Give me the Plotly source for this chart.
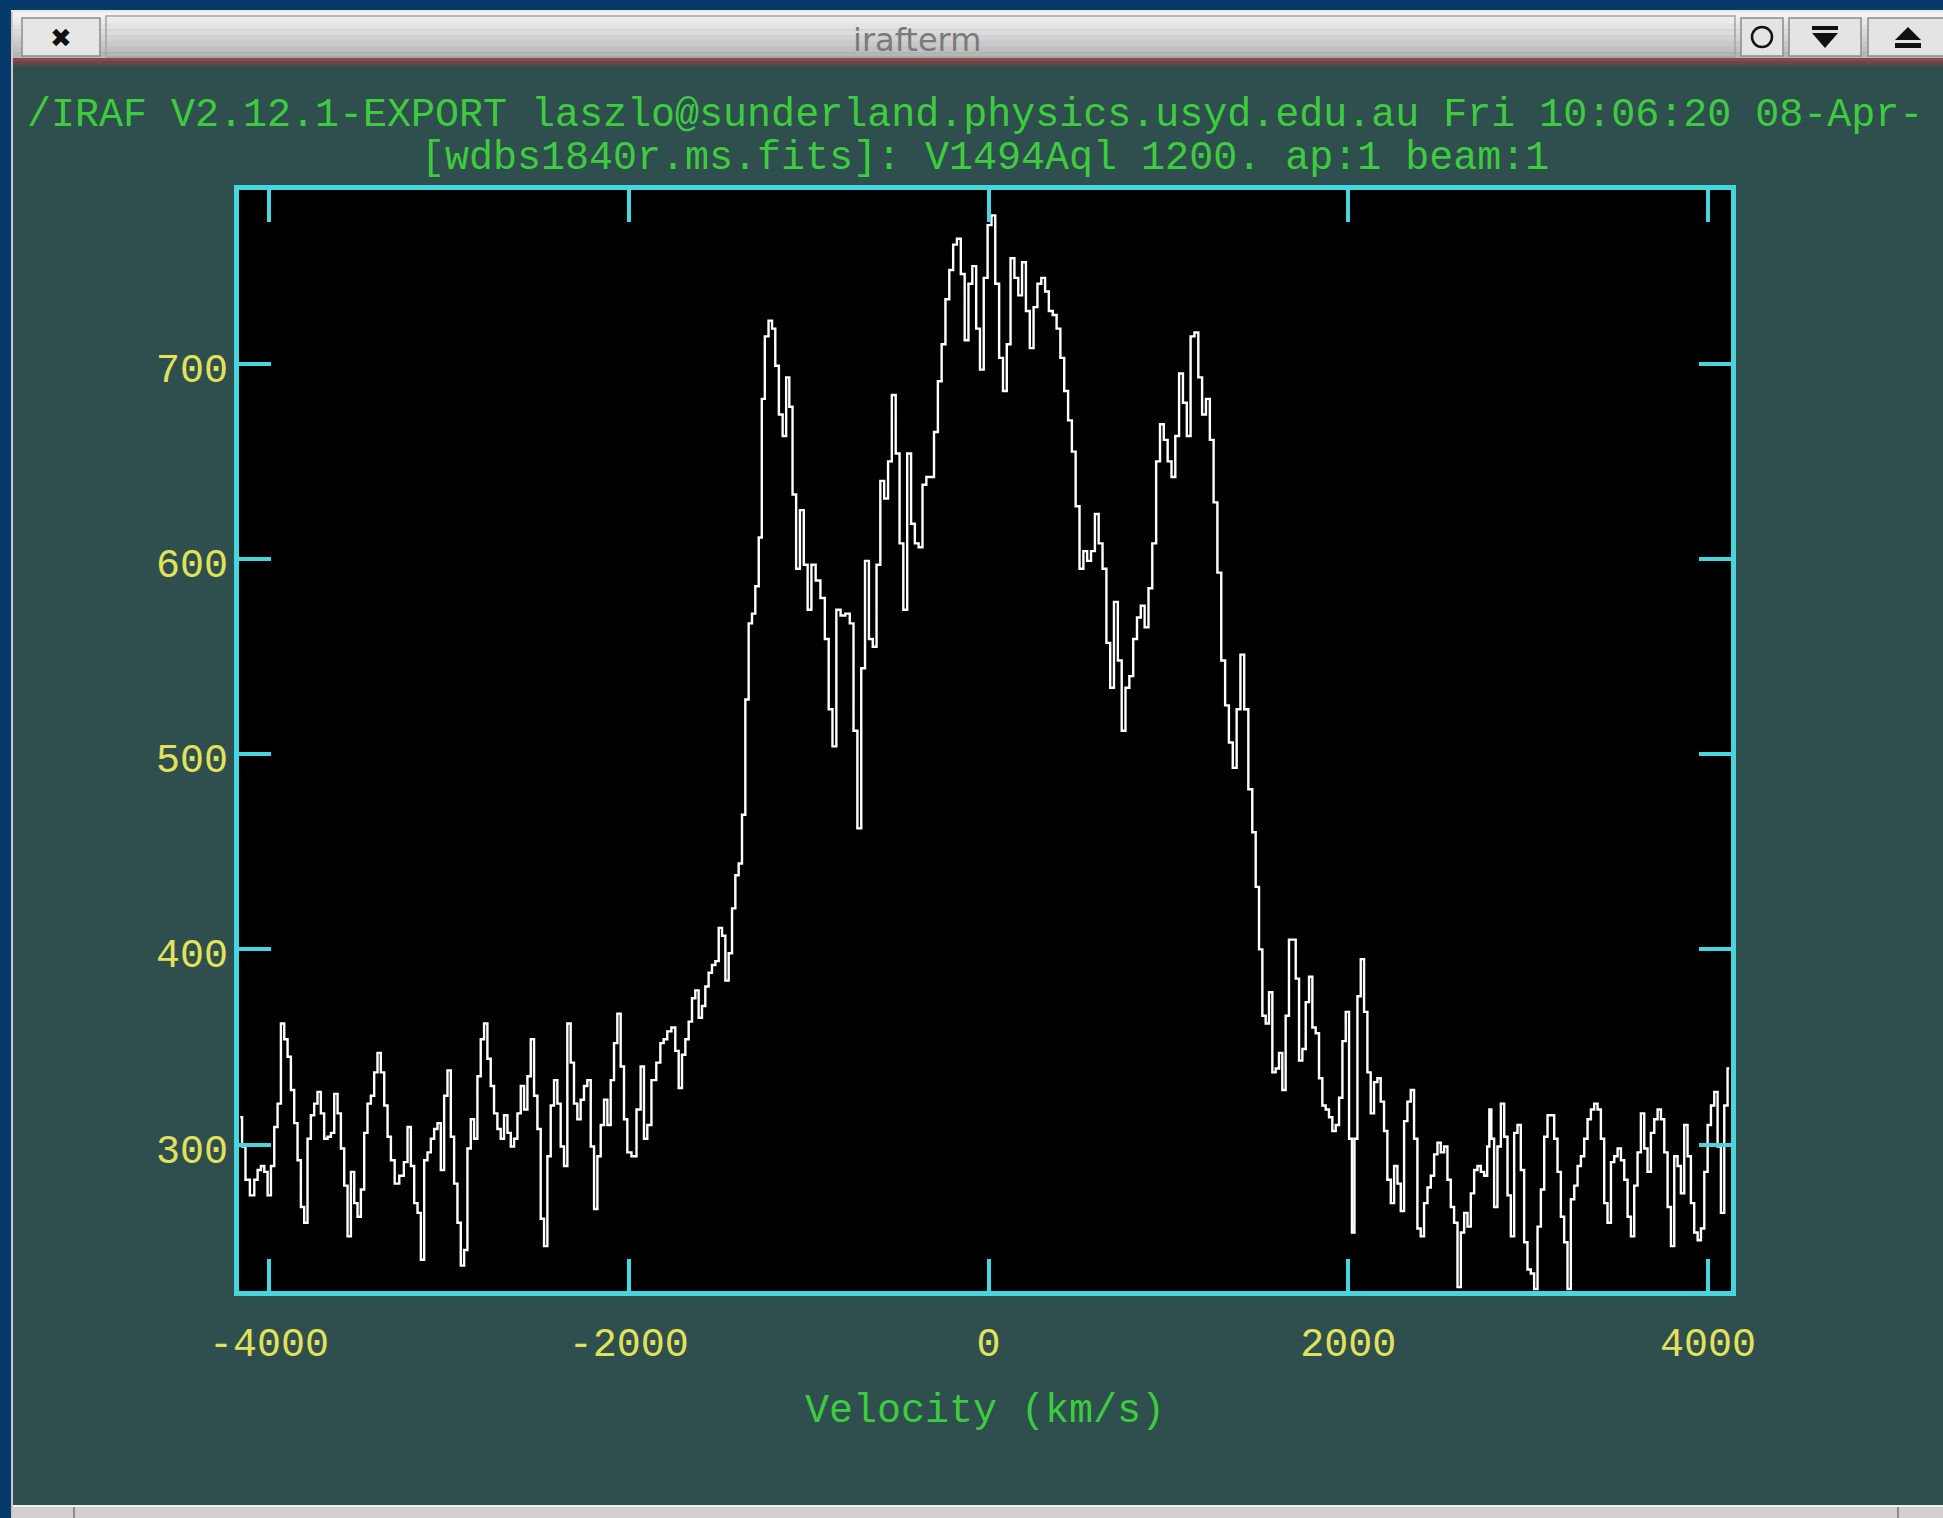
import plotly.graph_objects as go

# ---------------------------------------------------------------- data
# blue continuum  (velocity km/s, flux)
blue_cont_vel = [-4160, -4140, -4122, -4091, -4073, -4054, -4036, -4017, -3999, -3980,
                 -3962, -3943, -3925, -3906, -3888, -3869, -3851, -3832, -3814, -3795,
                 -3777, -3758, -3740, -3721, -3703, -3684, -3665, -3647, -3628, -3610,
                 -3591, -3573, -3554, -3536, -3517, -3499, -3480, -3462, -3443, -3425,
                 -3406, -3388, -3369, -3350, -3332, -3313, -3290, -3262, -3239, -3221,
                 -3202, -3184, -3165, -3147, -3128, -3110, -3091, -3073, -3054, -3036,
                 -3017, -2999, -2980, -2962, -2943, -2925, -2906, -2888, -2869, -2851,
                 -2832, -2814, -2795, -2777, -2758, -2740, -2721, -2703, -2684, -2665,
                 -2647, -2628, -2610, -2591, -2573, -2554, -2536, -2517, -2499, -2480,
                 -2462, -2443, -2425, -2406, -2388, -2369, -2351, -2332, -2314, -2295,
                 -2277, -2258, -2240, -2221, -2202, -2184, -2165, -2147, -2128, -2110,
                 -2091, -2073, -2054, -2036, -2017, -1999, -1971, -1943, -1925, -1906,
                 -1888, -1860]
blue_cont_flux = [314, 299, 282, 274, 282, 287, 289, 286, 274, 289,
                  309, 321, 362, 354, 345, 328, 311, 292, 268, 260,
                  303, 315, 321, 327, 316, 303, 304, 306, 326, 316,
                  298, 279, 253, 286, 270, 263, 277, 306, 321, 325,
                  337, 347, 337, 320, 304, 292, 280, 284, 291, 309,
                  289, 270, 265, 241, 292, 296, 303, 308, 311, 287,
                  325, 338, 304, 280, 260, 238, 246, 298, 313, 303,
                  335, 354, 362, 344, 330, 316, 308, 303, 315, 306,
                  299, 303, 316, 330, 318, 335, 354, 325, 308, 262,
                  248, 294, 320, 333, 321, 299, 289, 362, 342, 321,
                  313, 323, 330, 333, 299, 267, 294, 310, 323, 310,
                  333, 352, 367, 340, 313, 296, 294, 318, 340, 303,
                  310, 333]

# blue wing
blue_wing_vel = [-1834, -1815, -1797, -1775, -1751, -1732, -1713, -1695, -1676, -1658,
                 -1639, -1621, -1602, -1584, -1565, -1547, -1528, -1509, -1491, -1472,
                 -1454, -1435, -1417, -1398, -1380, -1361, -1343, -1324, -1306, -1287,
                 -1268]
blue_wing_flux = [342, 352, 354, 358, 360, 348, 329, 346, 354, 363,
                  375, 379, 365, 371, 381, 388, 392, 394, 411, 407,
                  384, 398, 421, 438, 444, 469, 528, 567, 572, 586,
                  611]

# line core (triple-peaked profile)
core_vel = [-1253, -1234, -1212, -1195, -1176, -1155, -1134, -1116, -1099, -1080,
            -1059, -1038, -1016, -995, -974, -948, -921, -899, -878, -857,
            -835, -810, -782, -761, -740, -718, -697, -676, -654, -633,
            -612, -591, -569, -548, -527, -505, -484, -463, -441, -420,
            -399, -378, -356, -335, -314, -292, -271, -250, -229, -207,
            -186, -165, -143, -122, -101, -79, -58, -37, -16, 6,
            27, 48, 70, 91, 112, 133, 155, 176, 197, 219,
            240, 261, 283, 304, 325, 346, 368, 389, 410, 432,
            453, 474, 495, 517, 538, 559, 581, 602, 623, 645,
            666, 687, 708, 730, 751, 772, 794, 815, 836, 857,
            879, 900, 921, 943, 964, 985, 1007, 1028, 1049, 1070,
            1092, 1113, 1134, 1156, 1177, 1198, 1220, 1241, 1262, 1283,
            1305, 1326, 1347, 1369, 1390, 1411, 1432]
core_flux = [682, 714, 722, 718, 699, 674, 663, 693, 678, 633,
             595, 625, 597, 574, 597, 589, 580, 559, 523, 504,
             574, 571, 572, 567, 512, 462, 544, 599, 559, 555,
             597, 640, 631, 650, 684, 654, 608, 574, 654, 618,
             608, 606, 638, 642, 642, 665, 691, 710, 733, 748,
             761, 764, 746, 712, 741, 750, 718, 697, 744, 771,
             776, 741, 703, 686, 710, 754, 744, 735, 752, 727,
             708, 729, 741, 744, 737, 727, 725, 718, 703, 686,
             671, 655, 627, 595, 604, 599, 604, 623, 608, 595,
             557, 534, 578, 548, 512, 534, 540, 559, 570, 576,
             565, 585, 608, 650, 669, 661, 650, 642, 663, 695,
             680, 663, 714, 716, 693, 674, 682, 661, 629, 593,
             548, 525, 506, 493, 523, 551, 523]

# red wing
red_wing_vel = [1457, 1476, 1495, 1513, 1532, 1550, 1569, 1587, 1606, 1624,
                1643, 1661, 1680, 1699, 1717, 1736, 1754, 1773, 1791, 1810,
                1828, 1847, 1865, 1884, 1902, 1921, 1940, 1958, 1977, 1995,
                2014, 2027, 2042, 2060, 2079, 2097, 2116, 2134, 2153, 2171,
                2190, 2208, 2227, 2246, 2264, 2283, 2301, 2320, 2338, 2357,
                2375, 2394, 2412, 2431, 2450, 2468, 2487]
red_wing_flux = [482, 460, 432, 400, 366, 362, 378, 337, 339, 347,
                 328, 366, 405, 405, 385, 343, 349, 373, 386, 360,
                 357, 334, 320, 318, 314, 307, 310, 324, 353, 368,
                 303, 255, 303, 376, 395, 368, 337, 316, 332, 334,
                 322, 307, 282, 270, 289, 280, 266, 312, 322, 328,
                 303, 257, 253, 270, 278, 284, 295]

# red continuum
red_cont_vel = [2505, 2524, 2542, 2561, 2579, 2598, 2617, 2635, 2654, 2672,
                2691, 2709, 2728, 2746, 2765, 2780, 2789, 2802, 2820, 2839,
                2858, 2876, 2895, 2913, 2932, 2950, 2969, 2987, 3006, 3024,
                3043, 3062, 3080, 3099, 3117, 3136, 3154, 3173, 3191, 3210,
                3228, 3247, 3266, 3284, 3303, 3321, 3340, 3358, 3377, 3395,
                3414, 3432, 3451, 3470, 3488, 3507, 3525, 3544, 3562, 3581,
                3599, 3618, 3636, 3655, 3673, 3692, 3711, 3729, 3748, 3766,
                3785, 3803, 3822, 3840, 3859, 3877, 3896, 3914, 3933, 3952,
                3970, 3989, 4007, 4026, 4044, 4063, 4081, 4100, 4118]
red_cont_flux = [301, 296, 299, 282, 268, 260, 227, 255, 265, 258,
                 275, 287, 289, 286, 284, 299, 318, 303, 268, 299,
                 321, 304, 274, 253, 306, 310, 287, 250, 236, 234,
                 226, 258, 277, 304, 315, 315, 303, 286, 263, 250,
                 226, 272, 279, 289, 294, 303, 313, 318, 321, 318,
                 303, 270, 260, 291, 294, 298, 292, 282, 263, 253,
                 279, 296, 316, 298, 286, 306, 313, 318, 313, 296,
                 268, 248, 294, 289, 275, 310, 294, 270, 255, 251,
                 257, 286, 310, 320, 327, 299, 265, 320, 339]

x_tick_vals = [-4000, -2000, 0, 2000, 4000]
x_tick_text = ["-4000", "-2000", "0", "2000", "4000"]
y_tick_vals = [300, 400, 500, 600, 700]
y_tick_text = ["300", "400", "500", "600", "700"]

header_line = "/IRAF V2.12.1-EXPORT laszlo@sunderland.physics.usyd.edu.au Fri 10:06:20 08-Apr-"
plot_title = "[wdbs1840r.ms.fits]: V1494Aql 1200. ap:1 beam:1"
x_title = "Velocity (km/s)"
window_title = "irafterm"

# ---------------------------------------------------------------- style
FIG_W, FIG_H = 1943, 1518
PLOT_L, PLOT_R, PLOT_T, PLOT_B = 239, 1731, 190, 1291
SLATE = "#2f4f4f"
CYAN = "#48d6de"
YELLOW = "#e2e25a"
GREEN = "#3dcc3d"
BLUE = "#053a6b"
MONO = "Liberation Mono"

PW = PLOT_R - PLOT_L
PH = PLOT_B - PLOT_T


def fx(px):
    return (px - PLOT_L) / PW


def fy(py):
    return (PLOT_B - py) / PH


def rect(x0, y0, x1, y1, fill, line_color=None, lw=0):
    return dict(type="rect", xref="paper", yref="paper", layer="below",
                x0=fx(x0), x1=fx(x1), y0=fy(y1), y1=fy(y0),
                fillcolor=fill, line=dict(width=lw, color=line_color or fill))


def poly(points, fill):
    path = "M " + " L ".join(f"{fx(a):.5f},{fy(b):.5f}" for a, b in points) + " Z"
    return dict(type="path", xref="paper", yref="paper", layer="below",
                path=path, fillcolor=fill, line=dict(width=0, color=fill))


vel = blue_cont_vel + blue_wing_vel + core_vel + red_wing_vel + red_cont_vel
flux = blue_cont_flux + blue_wing_flux + core_flux + red_wing_flux + red_cont_flux

fig = go.Figure(go.Scatter(x=vel, y=flux, mode="lines",
                           line=dict(color="white", width=2.4, shape="hvh"),
                           hoverinfo="skip"))

shapes = []
# outer blue border
shapes.append(rect(0, 0, FIG_W, 10, BLUE))
shapes.append(rect(0, 0, 11, FIG_H, BLUE))
shapes.append(rect(11, 10, 13, FIG_H, "#c8c8c8"))
shapes.append(rect(11, 10, FIG_W, 12, "#e8e8e8"))
# title bar gradient
grad = ["#f2f2f2", "#ebebeb", "#e3e3e3", "#dbdbdb", "#d2d2d2", "#c9c9c9", "#c0c0c0", "#b6b6b6"]
y_top, y_bot = 12, 58
step = (y_bot - y_top) / len(grad)
for i, c in enumerate(grad):
    shapes.append(rect(13, y_top + i * step, FIG_W, y_top + (i + 1) * step + 0.5, c))
# title bar boxes
shapes.append(rect(22, 18, 100, 56, "#e6e6e6", "#8c8c8c", 1.5))
shapes.append(rect(106, 16, 1735, 57, "rgba(0,0,0,0)", "#a4a4a4", 1.5))
shapes.append(rect(1741, 18, 1783, 56, "#e4e4e4", "#8c8c8c", 1.5))
shapes.append(rect(1789, 18, 1861, 56, "#e4e4e4", "#8c8c8c", 1.5))
shapes.append(rect(1868, 18, FIG_W + 5, 56, "#e4e4e4", "#8c8c8c", 1.5))
shapes.append(dict(type="circle", xref="paper", yref="paper", layer="below",
                   x0=fx(1752), x1=fx(1772), y0=fy(47), y1=fy(27),
                   line=dict(color="#111111", width=2.5)))
shapes.append(rect(1812, 26, 1838, 30, "#111111"))
shapes.append(poly([(1812, 33), (1838, 33), (1825, 48)], "#111111"))
shapes.append(poly([(1895, 40), (1921, 40), (1908, 27)], "#111111"))
shapes.append(rect(1895, 43, 1921, 48, "#111111"))
# reddish band under the title bar
shapes.append(rect(13, 58, FIG_W, 61, "#8a4848"))
shapes.append(rect(13, 61, FIG_W, 64, "#6a4645"))
shapes.append(rect(13, 64, FIG_W, 67, "#4a4b4a"))
# bottom bar
shapes.append(rect(13, 1505, FIG_W, FIG_H, "#d0d0d0"))
shapes.append(rect(13, 1505, FIG_W, 1507, "#f0f0f0"))
shapes.append(rect(73, 1507, 75, FIG_H, "#8c8c8c"))
shapes.append(rect(1897, 1507, 1899, FIG_H, "#8c8c8c"))

annotations = [
    dict(text=window_title, xref="paper", yref="paper", x=fx(917), y=fy(40),
         xanchor="center", yanchor="middle", showarrow=False,
         font=dict(family="DejaVu Sans", size=32, color="#7a7a7a")),
    dict(text="\u2716", xref="paper", yref="paper", x=fx(61), y=fy(38),
         xanchor="center", yanchor="middle", showarrow=False,
         font=dict(family="DejaVu Sans", size=26, color="#111111")),
    dict(text=header_line, xref="paper", yref="paper", x=fx(25), y=fy(116),
         xanchor="left", yanchor="middle", showarrow=False,
         font=dict(family=MONO, size=40, color=GREEN)),
    dict(text=plot_title, xref="paper", yref="paper", x=fx(985), y=fy(158),
         xanchor="center", yanchor="middle", showarrow=False,
         font=dict(family=MONO, size=40, color=GREEN)),
]

axis_common = dict(showgrid=False, zeroline=False, showline=True, linecolor=CYAN,
                   linewidth=5, mirror="ticks", ticks="inside", ticklen=32,
                   tickwidth=4, tickcolor=CYAN, automargin=False,
                   tickfont=dict(family=MONO, size=40, color=YELLOW))

fig.update_layout(
    width=FIG_W, height=FIG_H,
    margin=dict(l=PLOT_L, r=FIG_W - PLOT_R, t=PLOT_T, b=FIG_H - PLOT_B, pad=0, autoexpand=False),
    paper_bgcolor=SLATE, plot_bgcolor="black", showlegend=False,
    xaxis=dict(range=[-4167, 4128], tickvals=x_tick_vals, ticktext=x_tick_text,
               ticklabelstandoff=12,
               title=dict(text=x_title, standoff=28,
                          font=dict(family=MONO, size=40, color=GREEN)),
               **axis_common),
    yaxis=dict(range=[225, 789], tickvals=y_tick_vals, ticktext=y_tick_text,
               ticklabelstandoff=-2, ticklabelshift=4, **axis_common),
    shapes=shapes, annotations=annotations,
)

fig.write_html("out.html", config={"displayModeBar": False})
